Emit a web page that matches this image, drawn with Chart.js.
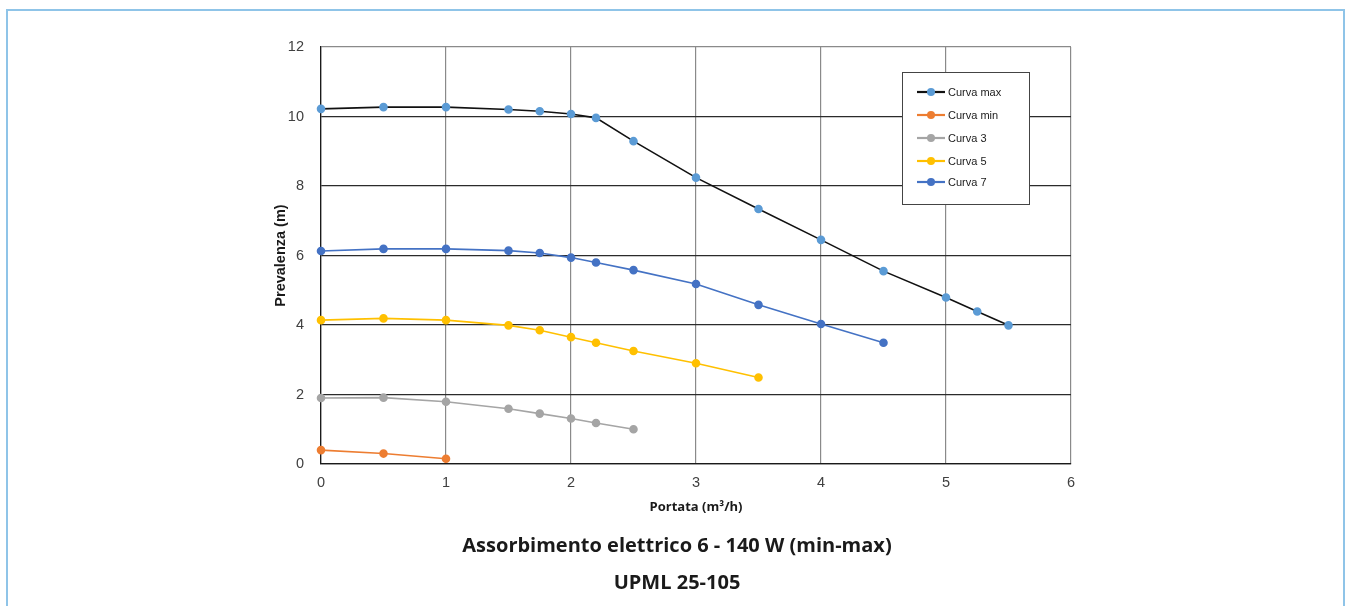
<!DOCTYPE html>
<html>
<head>
<meta charset="utf-8">
<script src="https://cdn.jsdelivr.net/npm/chart.js@4.4.1/dist/chart.umd.min.js"></script>
<style>
  html, body { margin: 0; padding: 0; background: #fff; }
  #wrap { position: relative; width: 1348px; height: 606px; overflow: hidden; }
  #frame { position: absolute; left: 6px; top: 9px; width: 1339px; height: 620px;
           border: 2px solid #8fc4e8; box-sizing: border-box; pointer-events: none; }
  .cap { position: absolute; left: 0; width: 1354px; text-align: center;
         font-family: "Open Sans", sans-serif; font-weight: bold; color: #1a1a1a;
         line-height: 27px; }
  #t1 { top: 531px; font-size: 20px; }
  #t2 { top: 568px; font-size: 20px; }
</style>
</head>
<body>
<div id="wrap">
  <canvas id="myChart" width="1348" height="606"></canvas>
  <div id="frame"></div>
  <div class="cap" id="t1">Assorbimento elettrico 6 - 140 W (min-max)</div>
  <div class="cap" id="t2">UPML 25-105</div>
</div>
<script>
// portata (m3/h) / prevalenza (m)
var curvaMaxX = [0, 0.5, 1, 1.5, 1.75, 2, 2.2, 2.5, 3, 3.5, 4, 4.5, 5, 5.25, 5.5];
var curvaMaxY = [10.22, 10.27, 10.27, 10.2, 10.15, 10.07, 9.96, 9.29, 8.24, 7.34, 6.45, 5.55, 4.79, 4.39, 3.99];

var curvaMinX = [0, 0.5, 1];
var curvaMinY = [0.4, 0.3, 0.15];

var curva3X = [0, 0.5, 1, 1.5, 1.75, 2, 2.2, 2.5];
var curva3Y = [1.9, 1.91, 1.79, 1.59, 1.45, 1.31, 1.18, 1.0];

var curva5X = [0, 0.5, 1, 1.5, 1.75, 2, 2.2, 2.5, 3, 3.5];
var curva5Y = [4.14, 4.19, 4.14, 3.99, 3.85, 3.65, 3.49, 3.25, 2.9, 2.49];

var curva7X = [0, 0.5, 1, 1.5, 1.75, 2, 2.2, 2.5, 3, 3.5, 4, 4.5];
var curva7Y = [6.13, 6.19, 6.19, 6.14, 6.07, 5.94, 5.8, 5.58, 5.18, 4.58, 4.03, 3.49];

var xTicks = [0, 1, 2, 3, 4, 5, 6];
var yTicks = [0, 2, 4, 6, 8, 10, 12];

var toPoints = function (xs, ys) {
    return xs.map(function (x, i) { return {x: x, y: ys[i]}; });
};

var makeSet = function (label, xs, ys, lineColor, dotColor) {
    return {
        label: label,
        data: toPoints(xs, ys),
        borderColor: lineColor,
        backgroundColor: dotColor,
        pointBackgroundColor: dotColor,
        pointBorderColor: dotColor,
        pointRadius: 3.5,
        borderWidth: 1.6,
        tension: 0,
        clip: false
    };
};

var datasets = [
    makeSet('Curva max', curvaMaxX, curvaMaxY, '#111111', '#5b9bd5'),
    makeSet('Curva min', curvaMinX, curvaMinY, '#ed7d31', '#ed7d31'),
    makeSet('Curva 3', curva3X, curva3Y, '#a5a5a5', '#a5a5a5'),
    makeSet('Curva 5', curva5X, curva5Y, '#ffc000', '#ffc000'),
    makeSet('Curva 7', curva7X, curva7Y, '#4472c4', '#4472c4')
];

// legend box drawn inside the plot, like the original sheet
var boxLegend = {
    id: 'boxLegend',
    afterDatasetsDraw: function (chart) {
        var ctx = chart.ctx;
        var left = 902, top = 72, w = 127, h = 132;
        var rows = [92, 115, 138, 161, 182];
        ctx.save();
        ctx.fillStyle = '#ffffff';
        ctx.fillRect(left, top, w, h);
        ctx.strokeStyle = '#444444';
        ctx.lineWidth = 1;
        ctx.strokeRect(left + 0.5, top + 0.5, w, h);
        ctx.font = '11px "Liberation Sans", Arial, sans-serif';
        ctx.textBaseline = 'middle';
        chart.data.datasets.forEach(function (ds, i) {
            var y = rows[i];
            ctx.strokeStyle = ds.borderColor;
            ctx.lineWidth = 2.2;
            ctx.beginPath();
            ctx.moveTo(917, y);
            ctx.lineTo(945, y);
            ctx.stroke();
            ctx.fillStyle = ds.pointBackgroundColor;
            ctx.beginPath();
            ctx.arc(931, y, 4, 0, Math.PI * 2);
            ctx.fill();
            ctx.fillStyle = '#1a1a1a';
            ctx.fillText(ds.label, 948, y + 0.5);
        });
        ctx.restore();
    }
};

var ctx = document.getElementById('myChart').getContext('2d');

new Chart(ctx, {
    type: 'line',
    data: {datasets: datasets},
    options: {
        responsive: false,
        animation: false,
        layout: {padding: {left: 272, right: 277, top: 47, bottom: 91}},
        plugins: {
            legend: {display: false},
            tooltip: {enabled: false}
        },
        scales: {
            x: {
                type: 'linear',
                min: 0,
                max: 6,
                afterFit: function (scale) { scale.height = 51; },
                afterBuildTicks: function (scale) {
                    scale.ticks = xTicks.map(function (v) { return {value: v}; });
                },
                grid: {
                    drawTicks: false,
                    color: '#8a8a8a',
                    lineWidth: 1.2
                },
                border: {color: '#1a1a1a', width: 1.3},
                ticks: {
                    padding: 10,
                    color: '#404040',
                    font: {family: '"Liberation Sans", Arial, sans-serif', size: 14.5}
                },
                title: {
                    display: true,
                    text: 'Portata (m\u00B3/h)',
                    color: '#1a1a1a',
                    padding: 0,
                    font: {family: '"Open Sans", sans-serif', size: 13, weight: 'bold'}
                }
            },
            y: {
                min: 0,
                max: 12,
                afterFit: function (scale) { scale.width = 49; },
                afterBuildTicks: function (scale) {
                    scale.ticks = yTicks.map(function (v) { return {value: v}; });
                },
                grid: {
                    drawTicks: false,
                    lineWidth: 1.2,
                    color: function (c) {
                        return c.tick && c.tick.value === 12 ? '#8a8a8a' : '#2b2b2b';
                    }
                },
                border: {color: '#1a1a1a', width: 1.3},
                ticks: {
                    padding: 17,
                    color: '#404040',
                    font: {family: '"Liberation Sans", Arial, sans-serif', size: 14.5}
                },
                title: {
                    display: true,
                    text: 'Prevalenza (m)',
                    color: '#1a1a1a',
                    padding: 0,
                    font: {family: '"Liberation Sans", Arial, sans-serif', size: 14.5, weight: 'bold'}
                }
            }
        }
    },
    plugins: [boxLegend]
});
</script>
</body>
</html>
